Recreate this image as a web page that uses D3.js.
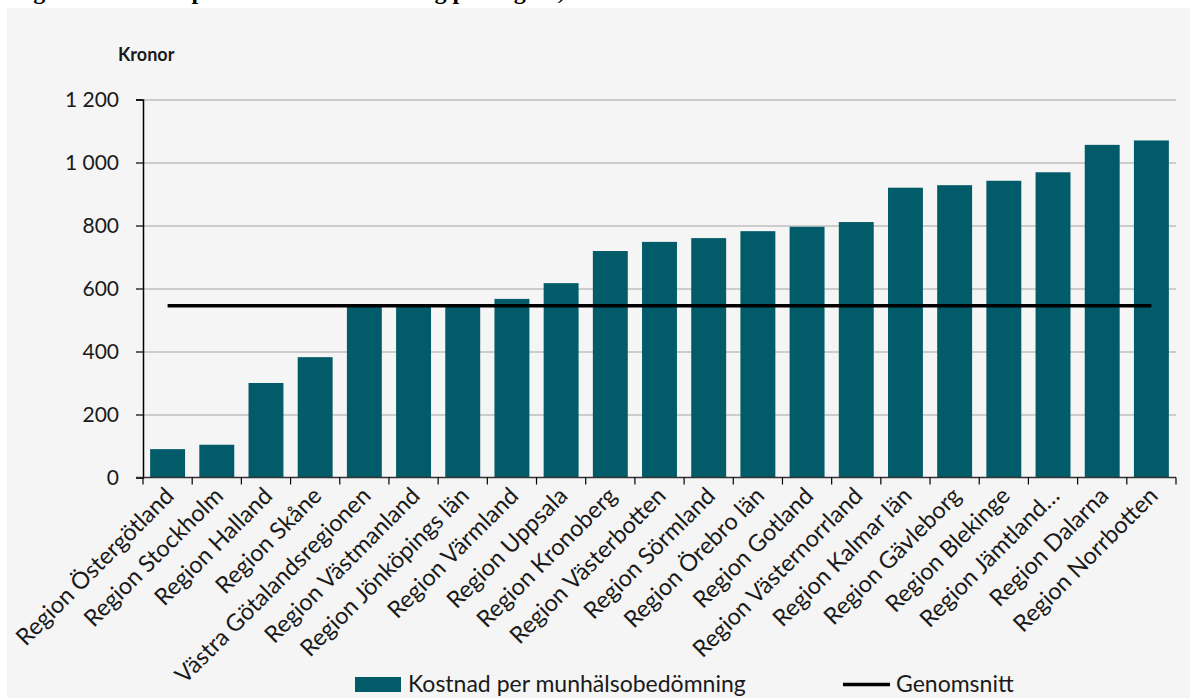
<!DOCTYPE html>
<html>
<head>
<meta charset="utf-8">
<script src="https://cdn.jsdelivr.net/npm/d3@7"></script>
<style>
  html, body { margin: 0; padding: 0; background: #ffffff; }
  svg { display: block; }
  .chart text { font-family: Lato, "Open Sans", sans-serif; fill: #1a1a1a; }
</style>
</head>
<body>
<div id="chart"></div>
<script>
// Data
const regions = [
  "Region Östergötland", "Region Stockholm", "Region Halland", "Region Skåne",
  "Västra Götalandsregionen", "Region Västmanland", "Region Jönköpings län",
  "Region Värmland", "Region Uppsala", "Region Kronoberg", "Region Västerbotten",
  "Region Sörmland", "Region Örebro län", "Region Gotland", "Region Västernorrland",
  "Region Kalmar län", "Region Gävleborg", "Region Blekinge", "Region Jämtland…",
  "Region Dalarna", "Region Norrbotten"
];
const costPerAssessment = [
  90, 104, 300, 382, 548, 549, 550, 567, 617, 719, 748,
  760, 782, 796, 811, 920, 928, 942, 969, 1056, 1070
];
const averageCost = 545;
const yTickValues = [0, 200, 400, 600, 800, 1000, 1200];
const legendLabels = ["Kostnad per munhälsobedömning", "Genomsnitt"];

const W = 1190, H = 698;
const margin = { top: 99.5, right: 14, bottom: 220.5, left: 143 };
const width = W - margin.left - margin.right;
const height = H - margin.top - margin.bottom;
const barColor = "#015b69";

const svg = d3.select("#chart").append("svg")
  .attr("class", "chart")
  .attr("width", W)
  .attr("height", H);

// panel background
svg.append("rect")
  .attr("x", 7).attr("y", 8)
  .attr("width", W - 7).attr("height", H - 8)
  .attr("fill", "#f5f5f5");

// caption above the panel, only its lowest part is inside the picture
svg.append("text")
  .attr("x", 12).attr("y", -1)
  .style("font-family", "'Liberation Serif', serif")
  .style("font-weight", "bold")
  .style("font-size", "24px")
  .style("fill", "#000")
  .text("Figur 7. Kostnad per munhälsobedömning per region, 2022");

const g = svg.append("g")
  .attr("transform", `translate(${margin.left},${margin.top})`);

const x = d3.scaleBand()
  .domain(regions)
  .range([0, width])
  .paddingInner(0.29)
  .paddingOuter(0.145);

const y = d3.scaleLinear()
  .domain([0, 1200])
  .range([height, 0]);

const sv = d3.formatLocale({ decimal: ",", thousands: "\u00a0", grouping: [3], currency: ["", " kr"] });
const fmt = sv.format(",");

// gridlines
g.append("g")
  .selectAll("line")
  .data(yTickValues.filter(d => d > 0))
  .join("line")
  .attr("x1", 0).attr("x2", width)
  .attr("y1", d => Math.round(y(d)) + 0.5)
  .attr("y2", d => Math.round(y(d)) + 0.5)
  .attr("stroke", "#a3a3a3")
  .attr("stroke-width", 1.2);

// bars
g.selectAll(".bar")
  .data(regions.map((r, i) => ({ region: r, value: costPerAssessment[i] })))
  .join("rect")
  .attr("class", "bar")
  .attr("x", d => x(d.region))
  .attr("y", d => y(d.value))
  .attr("width", x.bandwidth())
  .attr("height", d => height - y(d.value))
  .attr("fill", barColor);

// average line (from first to last category centre)
const firstC = x(regions[0]) + x.bandwidth() / 2;
const lastC = x(regions[regions.length - 1]) + x.bandwidth() / 2;
g.append("line")
  .attr("x1", firstC).attr("x2", lastC)
  .attr("y1", y(averageCost)).attr("y2", y(averageCost))
  .attr("stroke", "#000")
  .attr("stroke-width", 3.5);

// y axis
const yAxis = g.append("g")
  .call(d3.axisLeft(y).tickValues(yTickValues).tickFormat(fmt).tickSize(7).tickPadding(17));
yAxis.select(".domain").attr("stroke", "#000").attr("stroke-width", 1.5);
yAxis.selectAll(".tick line").attr("stroke", "#000").attr("stroke-width", 1.2);
yAxis.selectAll("text")
  .style("font-size", "21px")
  .attr("fill", "#1a1a1a");

// x axis: ticks at band boundaries
const boundaries = regions.map(r => x(r) - x.step() * x.paddingInner() / 2);
boundaries.push(width);
const xAxis = g.append("g").attr("transform", `translate(0,${height})`);
xAxis.append("line")
  .attr("x1", -7).attr("x2", width)
  .attr("stroke", "#333").attr("stroke-width", 1.5);
xAxis.selectAll(".xt")
  .data(boundaries)
  .join("line")
  .attr("class", "xt")
  .attr("x1", d => d).attr("x2", d => d)
  .attr("y1", 0).attr("y2", 7)
  .attr("stroke", "#000").attr("stroke-width", 1.2);

xAxis.selectAll(".xl")
  .data(regions)
  .join("text")
  .attr("class", "xl")
  .attr("text-anchor", "end")
  .attr("transform", d => `translate(${x(d) + x.bandwidth() / 2 + 2},${14}) rotate(-45)`)
  .attr("dy", "0.35em")
  .style("font-size", "23.5px")
  .text(d => d);

// y axis title
svg.append("text")
  .attr("x", 118).attr("y", 61)
  .style("font-size", "18px")
  .style("font-weight", "bold")
  .text("Kronor");

// legend
const legend = svg.append("g");
legend.append("rect")
  .attr("x", 355).attr("y", 677)
  .attr("width", 46).attr("height", 15)
  .attr("fill", barColor);
legend.append("text")
  .attr("x", 408).attr("y", 692)
  .style("font-size", "23px")
  .text(legendLabels[0]);
legend.append("line")
  .attr("x1", 843).attr("x2", 890)
  .attr("y1", 684.5).attr("y2", 684.5)
  .attr("stroke", "#000").attr("stroke-width", 3.5);
legend.append("text")
  .attr("x", 896).attr("y", 692)
  .style("font-size", "23px")
  .text(legendLabels[1]);
</script>
</body>
</html>
